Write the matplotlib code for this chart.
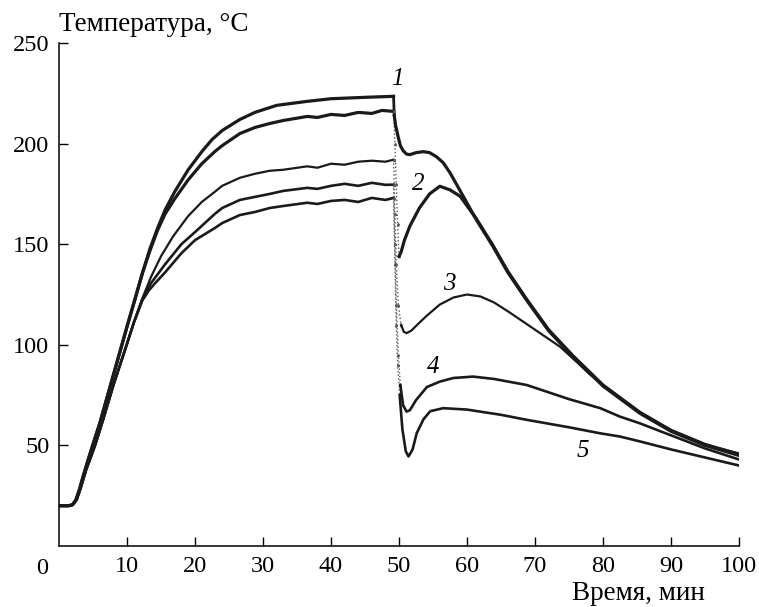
import matplotlib
matplotlib.use('Agg')
import matplotlib.pyplot as plt

plt.rcParams['font.family'] = ['Liberation Serif', 'DejaVu Serif']

# heating + plateau (min, degC)
t1 = [0, 1.4, 2.0, 2.5, 3.0, 3.5, 4.3, 5.0, 6.0, 7.0, 8.0, 9.0, 10.0, 11.2, 12.3,
      13.4, 14.5, 15.6, 17.0, 19.0, 21.0, 22.5, 24.0, 26.6, 28.8, 32.0, 36.5, 40.0,
      45.0, 49.2]
T1 = [20, 20, 20.5, 23, 28, 34, 43, 50.5, 61, 73, 85, 97, 109, 123, 136,
      148, 158, 167, 176, 187, 196, 202, 206.5, 212, 215.5, 219, 221, 222.3,
      223, 223.5]

t2 = [0, 1.4, 2.0, 2.5, 3.0, 3.5, 4.3, 5.0, 6.0, 7.0, 8.0, 9.0, 10.0, 11.2, 12.3,
      13.4, 14.5, 15.6, 17.0, 19.0, 21.0, 22.9, 24.0, 26.6, 28.8, 31.0, 33.0, 36.5,
      38.0, 40.0, 42.0, 44.0, 46.0, 47.5, 49.2]
T2 = [20, 20, 20.5, 23, 28, 34, 43, 50.5, 61, 73, 85, 97, 109, 123, 136,
      147, 157, 165, 172.5, 182, 190, 196, 199, 205, 208, 210, 211.5, 213.5,
      213, 214.5, 214, 215.5, 215, 216.5, 216]

t3 = [0, 1.4, 2.0, 2.6, 3.2, 4.0, 5.3, 6.5, 8.0, 9.95, 11.0, 12.25, 13.5, 15.0, 16.8,
      19.0, 21.0, 22.9, 24.0, 26.6, 28.8, 31.0, 33.0, 36.5, 38.0, 40.0, 42.0, 44.0,
      46.0, 48.0, 49.2]
T3 = [20, 20, 20.5, 23, 29, 38, 50, 63, 80, 100, 111, 123, 133.5, 144, 154,
      164, 171, 176, 179, 183, 185, 186.5, 187, 188.7, 188, 190, 189.5, 191,
      191.5, 191, 192]

t4 = [0, 1.4, 2.0, 2.6, 3.2, 4.0, 5.3, 6.5, 8.0, 9.95, 11.0, 12.25, 13.5, 15.6, 18.0,
      20.0, 22.9, 24.0, 26.6, 28.8, 31.0, 33.0, 36.5, 38.0, 40.0, 42.0, 44.0, 46.0,
      48.0, 49.2]
T4 = [20, 20, 20.5, 23, 29, 38, 50, 63, 80, 100, 111, 122.5, 130.5, 140, 150,
      156, 165, 168, 172, 173.5, 175, 176.5, 178, 177.5, 179, 180, 179, 180.5,
      179.5, 179.6]

t5 = [0, 1.4, 2.0, 2.6, 3.2, 4.0, 5.3, 6.5, 8.0, 9.95, 11.0, 12.25, 13.2, 14.1, 15.6,
      18.0, 20.0, 22.9, 24.0, 26.6, 28.8, 31.0, 33.0, 36.5, 38.0, 40.0, 42.0, 44.0,
      46.0, 48.0, 49.2]
T5 = [20, 20, 20.5, 23, 29, 38, 50, 63, 80, 100, 111, 122, 127, 130.5, 136,
      145.5, 152, 158, 160.5, 164.5, 166, 168, 169, 170.6, 170, 171.5, 172, 171,
      173, 172, 173]

# drop right after the heater is switched off
t1d = [49.2, 49.3]
T1d = [223.5, 214]
t2d = [49.2, 49.4, 49.6, 49.8, 50.0]
T2d = [216, 200, 180, 160, 144]
t3d = [49.2, 49.4, 49.6, 49.9, 50.3]
T3d = [192, 165, 140, 120, 110]
t4d = [49.2, 49.4, 49.6, 49.9, 50.2]
T4d = [179.6, 150, 120, 95, 80]
t5d = [49.2, 49.4, 49.6, 49.8, 50.1]
T5d = [173, 140, 110, 90, 75]

# cooling
t1c = [49.3, 49.5, 49.9, 50.2, 50.6, 51.1, 51.6, 52.5, 53.6, 54.5, 55.5, 56.5, 57.5,
       58.5, 59.5, 61.4, 63.8, 66.0, 68.8, 72.0, 75.6, 80.0, 85.4, 90.0, 95.0, 100.0]
T1c = [214, 209, 203, 199, 196.5, 194.8, 194.5, 195.5, 196, 195.5, 193.5, 190.5, 185.5,
       179.5, 173.5, 162, 149, 136, 122, 107, 94, 79.5, 66, 57, 50, 45]

t2c = [50.0, 50.3, 50.8, 51.6, 53.0, 54.5, 56.0, 57.5, 59.0, 61.4, 63.8, 66.0, 68.8,
       72.0, 75.6, 80.0, 85.4, 90.0, 95.0, 100.0]
T2c = [144, 146, 152, 159, 168, 175, 178.8, 177, 173.8, 162.5, 149.5, 136.5, 122.5,
       107.5, 94.5, 80, 66.5, 57.5, 50.5, 45.5]

t3c = [50.3, 50.7, 51.1, 51.8, 53.0, 54.1, 56.0, 58.0, 60.0, 62.0, 64.0, 66.3, 70.0,
       73.7, 76.6, 78.0, 80.0, 85.4, 90.0, 95.0, 100.0]
T3c = [110, 106.5, 105.8, 107, 111, 114.5, 120, 123.5, 125, 124, 121, 116, 107.5,
       99, 90, 85.5, 80, 66.5, 57.5, 50.5, 46]

t4c = [50.2, 50.6, 51.1, 51.6, 52.5, 54.1, 56.0, 58.0, 60.9, 64.0, 68.8, 75.0, 79.6,
       82.5, 85.4, 90.0, 95.0, 100.0]
T4c = [80, 70, 66.8, 67.5, 72.5, 79, 81.7, 83.5, 84.2, 83, 80, 73, 68.5,
       64.3, 61, 55, 48.5, 43]

t5c = [50.1, 50.5, 51.0, 51.4, 52.0, 52.6, 53.6, 54.6, 56.5, 60.0, 65.0, 68.8, 75.0,
       79.6, 82.5, 85.4, 90.0, 95.0, 100.0]
T5c = [75, 58, 47, 44.5, 48, 56, 63, 67, 68.5, 67.8, 65.2, 62.7, 59,
       56, 54.4, 52, 48, 44, 40]

curve_labels = ['1', '2', '3', '4', '5']
label_x = [49.7, 52.8, 57.4, 55.0, 77.0]
label_y = [232, 180, 130, 89, 47]

fig = plt.figure(figsize=(7.59, 6.07), dpi=100)
ax = fig.add_axes([59 / 759, 61 / 607, 680 / 759, 503 / 607])

heat = [(t1, T1, 2.3), (t2, T2, 2.3), (t3, T3, 1.6), (t4, T4, 1.9), (t5, T5, 1.9)]
for t, T, lw in heat:
    ax.plot(t, T, color='#1a1a1a', lw=lw, solid_joinstyle='round')

ax.plot(t1d, T1d, color='#1a1a1a', lw=2.0)
for t, T in [(t2d, T2d), (t3d, T3d), (t4d, T4d), (t5d, T5d)]:
    ax.plot(t, T, color='0.35', lw=1.0, ls=':', marker='^', ms=1.5)

cool = [(t1c, T1c, 2.3), (t2c, T2c, 2.3), (t3c, T3c, 1.6), (t4c, T4c, 1.9), (t5c, T5c, 1.9)]
for t, T, lw in cool:
    ax.plot(t, T, color='#1a1a1a', lw=lw, solid_joinstyle='round')

for lab, x, y in zip(curve_labels, label_x, label_y):
    ax.text(x, y, lab, fontsize=18, style='italic', ha='center', va='center')

ax.set_xlim(0, 100)
ax.set_ylim(0, 250)
ax.set_xticks(range(10, 101, 10))
ax.set_yticks([50, 100, 150, 200, 250])
ax.tick_params(direction='in', length=6.5, width=1.0, labelsize=17.5, pad=7)
ax.spines['top'].set_visible(False)
ax.spines['right'].set_visible(False)
for s in ['left', 'bottom']:
    ax.spines[s].set_linewidth(1.1)

# shared origin label
ax.annotate('0', xy=(0, 0), xycoords='axes fraction', xytext=(-12.5, -9),
            textcoords='offset points', ha='center', va='top', fontsize=17.5)

fig.text(59 / 759, 1 - 31 / 607, 'Температура, °С', fontsize=19.5, ha='left', va='baseline')
fig.text(705 / 759, 1 - 600 / 607, 'Время, мин', fontsize=19.5, ha='right', va='baseline')

plt.savefig('out.png', dpi=100)
